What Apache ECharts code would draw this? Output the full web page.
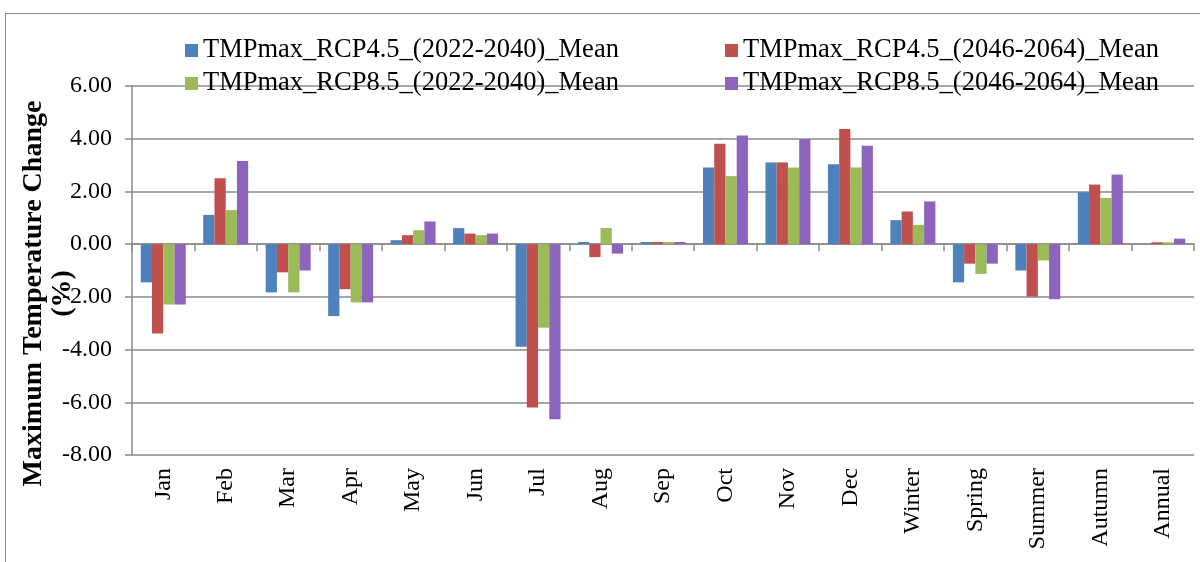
<!DOCTYPE html>
<html>
<head>
<meta charset="utf-8">
<script src="https://cdn.jsdelivr.net/npm/echarts@6/dist/echarts.min.js"></script>
<style>
  html, body { margin: 0; padding: 0; background: #fff; overflow: hidden; }
  #frame { position: absolute; left: 5px; top: 13px; width: 1400px; height: 800px; border: 1.5px solid #8c8c8c; }
  #main { position: absolute; left: 0; top: 0; width: 1200px; height: 562px; }
</style>
</head>
<body>
<div id="frame"></div>
<div id="main"></div>
<script>
// categories along the x axis
const months = ['Jan', 'Feb', 'Mar', 'Apr', 'May', 'Jun', 'Jul', 'Aug', 'Sep', 'Oct', 'Nov', 'Dec',
  'Winter', 'Spring', 'Summer', 'Autumn', 'Annual'];

// series values
const rcp45Near = [-1.45, 1.11, -1.83, -2.73, 0.15, 0.61, -3.89, 0.08, 0.08, 2.91, 3.10, 3.03, 0.91, -1.45, -1.00, 1.97, 0.00];
const rcp45Far  = [-3.39, 2.50, -1.07, -1.71, 0.34, 0.40, -6.20, -0.49, 0.08, 3.81, 3.10, 4.37, 1.24, -0.74, -1.99, 2.26, 0.07];
const rcp85Near = [-2.29, 1.29, -1.83, -2.21, 0.53, 0.34, -3.17, 0.61, 0.08, 2.58, 2.91, 2.91, 0.73, -1.13, -0.62, 1.75, 0.07];
const rcp85Far  = [-2.29, 3.15, -1.00, -2.21, 0.86, 0.40, -6.64, -0.36, 0.08, 4.12, 3.98, 3.73, 1.62, -0.74, -2.09, 2.64, 0.21];

const seriesNames = [
  'TMPmax_RCP4.5_(2022-2040)_Mean',
  'TMPmax_RCP4.5_(2046-2064)_Mean',
  'TMPmax_RCP8.5_(2022-2040)_Mean',
  'TMPmax_RCP8.5_(2046-2064)_Mean'
];
const colors = ['#4F81BD', '#C0504D', '#9BBB59', '#8C63BD'];

const serif = "'Times New Roman', 'Liberation Serif', serif";
const gridGrey = '#8a8a8a';

let chart = echarts.init(document.getElementById('main'));

const legendText = { fontFamily: serif, fontSize: 26.5, color: '#000', lineHeight: 26 };

let option = {
  color: colors,
  animation: false,
  legend: [
    {
      orient: 'vertical', left: 180, top: 32, itemGap: 6,
      itemWidth: 13, itemHeight: 13, icon: 'rect',
      textStyle: legendText,
      data: [seriesNames[0], seriesNames[2]]
    },
    {
      orient: 'vertical', left: 720, top: 32, itemGap: 6,
      itemWidth: 13, itemHeight: 13, icon: 'rect',
      textStyle: legendText,
      data: [seriesNames[1], seriesNames[3]]
    }
  ],
  grid: { left: 132, right: 6, top: 86, bottom: 107, containLabel: false, outerBoundsMode: 'none' },
  xAxis: [
    {
      type: 'category',
      position: 'bottom',
      data: months,
      axisLine: { show: false, onZero: false },
      axisTick: { show: false },
      axisLabel: {
        rotate: 90, margin: 13, interval: 0,
        fontFamily: serif, fontSize: 24, color: '#000'
      }
    },
    {
      // zero line with the category ticks
      type: 'category',
      position: 'bottom',
      data: months,
      axisLine: { show: true, onZero: true, lineStyle: { color: gridGrey, width: 1.5 } },
      axisTick: { show: true, length: 7, lineStyle: { color: gridGrey, width: 1.5 } },
      axisLabel: { show: false }
    }
  ],
  yAxis: {
    type: 'value',
    min: -8, max: 6, interval: 2,
    name: 'Maximum Temperature Change\n(%)',
    nameLocation: 'middle',
    nameRotate: 90,
    nameGap: 55,
    nameMoveOverlap: false,
    nameTextStyle: {
      fontFamily: serif, fontSize: 28, fontWeight: 'bold', color: '#000', lineHeight: 29,
      padding: [0, 46, 0, 0]
    },
    axisLine: { show: true, lineStyle: { color: gridGrey, width: 1.5 } },
    axisTick: { show: true, length: 7, lineStyle: { color: gridGrey, width: 1.5 } },
    axisLabel: {
      margin: 20, fontFamily: serif, fontSize: 24, color: '#000',
      formatter: v => v.toFixed(2)
    },
    splitLine: { lineStyle: { color: gridGrey, width: 1.5 } }
  },
  series: [rcp45Near, rcp45Far, rcp85Near, rcp85Far].map((vals, i) => ({
    name: seriesNames[i],
    type: 'bar',
    xAxisIndex: 0,
    data: vals,
    barGap: '0%',
    barCategoryGap: '28%'
  }))
};

chart.setOption(option);
</script>
</body>
</html>
